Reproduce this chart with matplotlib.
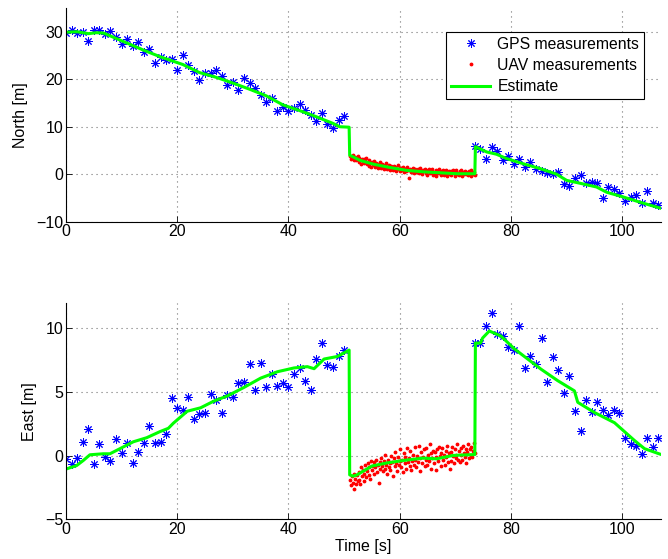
import numpy as np
import matplotlib
matplotlib.use("Agg")
import matplotlib.pyplot as plt

plt.rcParams['font.family'] = ['Liberation Sans', 'DejaVu Sans']
plt.rcParams['font.size'] = 11.5

# GPS fixes (1 Hz) before the UAV segment and after it
gps_t1 = np.arange(0, 51)
gps_t2 = np.arange(73.5, 107, 1.0)
gps_north1 = [29.8, 30.3, 29.8, 29.9, 28.0, 30.3, 30.3, 29.6, 30.1, 28.9,
              27.5, 28.4, 27.1, 27.8, 25.7, 26.4, 23.4, 24.7, 24.1, 24.3,
              22.0, 25.0, 23.1, 21.7, 19.8, 21.4, 21.4, 21.9, 20.6, 18.8,
              19.5, 17.8, 20.3, 19.3, 18.1, 16.7, 15.3, 16.0, 13.4, 14.2,
              13.4, 13.9, 14.8, 13.5, 12.5, 11.3, 12.8, 10.6, 9.7, 11.4, 12.3]
gps_north2 = [5.9, 5.4, 3.3, 5.8, 4.9, 2.9, 3.8, 2.2, 3.1, 1.5,
              2.6, 1.2, 0.7, 0.3, 0.1, 0.5, -2.0, -2.4, -0.9, -0.2,
              -1.9, -1.6, -1.9, -5.0, -2.7, -3.1, -4.0, -5.7, -4.7, -4.3,
              -6.1, -3.6, -6.1, -6.4]
gps_east1 = [-0.29, -0.64, -0.18, 1.10, 2.11, -0.64, 0.94, -0.10, -0.37, 1.31,
             0.24, 1.04, -0.58, 0.27, 1.04, 2.32, 1.04, 1.10, 1.68, 4.57,
             3.77, 3.58, 4.62, 2.88, 3.29, 3.37, 4.84, 4.36, 3.34, 4.78,
             4.62, 5.75, 5.83, 7.24, 5.16, 7.32, 5.42, 6.39, 5.50, 5.75,
             5.37, 6.39, 6.92, 5.91, 5.16, 7.64, 8.85, 7.13, 6.97, 7.83, 8.31]
gps_east2 = [8.85, 8.85, 10.23, 11.19, 9.59, 9.38, 8.58, 8.31, 10.18, 6.87,
             7.83, 7.19, 9.25, 5.80, 7.72, 6.71, 4.97, 6.25, 3.50, 1.98,
             4.36, 3.45, 4.22, 3.58, 3.18, 3.58, 3.37, 1.36, 0.96, 0.78,
             0.11, 1.36, 0.70, 1.36]

# UAV position measurements between t = 51 s and t = 73.5 s
uav_north = [3.9, 3.2, 3.6, 4.1, 3.0, 3.4, 3.7, 2.9, 3.3, 3.8,
             2.6, 3.4, 2.9, 2.2, 3.1, 2.7, 3.3, 2.4, 2.8, 3.5,
             2.1, 2.6, 1.8, 2.9, 2.3, 1.6, 2.5, 2.2, 2.8, 1.9,
             1.5, 2.4, 1.9, 1.3, 2.1, 2.6, 1.7, 1.4, 2.2, 1.8,
             1.2, 1.9, 1.5, 2.3, 1.1, 1.6, 2.0, 0.9, 1.4, 1.8,
             1.3, 0.8, 1.7, 1.1, 1.5, 0.6, 1.2, 1.9, 1.0, 1.4,
             0.7, 1.3, 0.9, 1.6, 0.4, 1.0, 1.2, 0.6, 1.5, 0.8,
             -0.8, 0.9, 1.2, 0.5, 0.8, 1.4, 0.3, 0.7, 1.1, 0.6,
             0.4, 1.0, 0.2, 0.8, 1.3, 0.5, 0.1, 0.9, 0.6, 1.1,
             0.3, 0.8, -0.2, 0.6, 1.0, 0.2, 0.7, 0.4, 1.2, -0.1,
             0.5, 0.1, 0.9, -0.3, 0.6, 0.3, 1.0, 0.2, 0.7, -0.1,
             0.4, 0.8, -0.2, 0.5, 0.1, 0.9, -0.4, 0.3, 0.6, 0.0,
             0.7, -0.1, 0.4, 0.9, 0.2, -0.3, 0.5, 0.8, 0.1, 0.3,
             -0.2, 0.6, 0.2, 0.8, -0.4, 0.4, 0.1, 0.7, 0.0, 0.5,
             0.3, -0.1, 0.6, 0.2, 0.8, -0.3, 0.4, 0.1, 0.5, -0.1]
uav_east = [-1.9, -2.3, -1.6, -2.1, -1.4, -2.6, -1.8, -2.2, -1.5, -2.0,
            -1.3, -1.9, -2.2, -0.9, -1.6, -1.1, -2.0, -1.4, -0.7, -1.7,
            -1.2, -0.6, -1.5, -0.9, -1.8, -0.4, -1.1, -0.8, -1.4, -0.5,
            -0.9, -0.3, -1.3, -0.7, -2.1, -0.5, -1.0, -0.2, -0.8, -1.2,
            -0.4, -1.0, 0.1, -0.7, -1.4, -0.3, -0.9, -0.6, -1.1, 0.0,
            -0.5, -1.6, -0.2, -0.8, 0.3, -0.6, -1.2, -0.1, -0.7, -0.4,
            0.5, -0.9, -0.3, -1.3, 0.2, -0.6, -0.1, -1.0, 0.6, -0.5,
            -0.2, -0.8, 0.4, -1.1, -0.4, 0.1, -0.7, 0.7, -0.3, -0.9,
            0.0, -0.5, 0.8, -0.2, -1.2, 0.3, -0.6, -0.1, 0.5, -0.8,
            -0.3, 0.6, -0.7, 0.1, -0.4, 0.9, -1.0, 0.2, -0.2, 0.4,
            -0.6, 0.3, -0.1, -1.1, 0.5, -0.4, 0.7, 0.0, -0.8, 0.2,
            0.6, -0.3, 0.1, -0.7, 0.4, -0.1, 0.8, -0.5, 0.2, -1.0,
            0.3, -0.4, 0.7, 0.0, -0.6, 0.5, 0.1, -0.2, 0.9, -0.3,
            0.4, -0.5, 0.6, 0.1, -0.3, 0.8, 0.2, -0.1, 0.5, -0.6,
            0.3, 0.9, -0.2, 0.5, 0.0, 0.7, -0.1, 0.4, 1.0, 0.2]
uav_t = np.linspace(51.1, 73.5, len(uav_north))

# filter estimate
est_t_north = [0, 2, 4, 5.5, 6.8, 8, 11, 14, 17, 21, 24, 27, 30, 33, 36, 39,
               42, 45, 48, 49.2, 50.9, 51.0, 52.9, 55.3, 58.3, 61.3, 64.3,
               67.3, 70.3, 73.5, 73.6, 75.6, 77.4, 79.2, 82.2, 85.2, 88.2,
               90, 92.4, 95.4, 97.2, 100.2, 103.2, 107]
est_north = [29.9, 30.0, 29.6, 29.8, 29.7, 29.1, 27.6, 26.1, 24.7, 23.1,
             21.4, 20.4, 19.2, 17.9, 16.5, 14.6, 13.4, 12.1, 10.7, 10.0,
             9.9, 4.0, 2.9, 2.1, 1.4, 0.8, 0.5, 0.3, 0.1, 0.1, 5.8, 4.7,
             4.2, 3.3, 2.2, 1.2, 0.0, -1.3, -1.9, -2.7, -3.8, -4.8, -5.9, -7.2]
est_t_east = [0, 1.9, 3.1, 4.3, 6.7, 7.9, 9.7, 12.1, 14.5, 16.9, 18.4, 19.3,
              21.8, 24.2, 26.6, 29, 32, 35, 38, 41, 43.4, 44.6, 46.4, 48.8,
              50.9, 51.0, 51.6, 52.3, 55, 57.7, 60.6, 64.2, 66.6, 69.6, 73.5,
              73.6, 74.5, 74.9, 76.1, 78.2, 80.6, 83, 85.4, 88.4, 91.4, 92,
              95, 98.6, 100.4, 102.2, 104, 107]
est_east = [-1.04, -0.77, -0.37, 0.08, 0.16, 0.16, 0.56, 1.1, 1.42, 1.9,
            2.16, 2.56, 3.5, 3.77, 4.3, 4.7, 5.37, 6.1, 6.6, 6.9, 7.0, 6.84,
            7.6, 7.8, 8.3, -1.5, -1.6, -1.5, -0.8, -0.56, -0.37, -0.18, -0.24,
            0.03, 0.1, 8.85, 8.85, 9.25, 9.8, 9.4, 8.4, 7.6, 6.8, 5.9, 5.1,
            4.2, 3.4, 2.6, 1.9, 1.2, 0.56, 0.1]

asterisk = (8, 2, 0)

fig = plt.figure(figsize=(6.68, 5.59), dpi=100)
ax1 = fig.add_axes([0.0988, 0.6034, 0.891, 0.3823])
ax2 = fig.add_axes([0.0988, 0.0707, 0.891, 0.3873])


def style(ax, ylim, yticks):
    ax.set_xlim(0, 107)
    ax.set_ylim(*ylim)
    ax.set_xticks([0, 20, 40, 60, 80, 100])
    ax.set_yticks(yticks)
    for s in ('top', 'right'):
        ax.spines[s].set_visible(False)
    ax.spines['left'].set_linewidth(0.8)
    ax.spines['bottom'].set_linewidth(0.8)
    ax.tick_params(direction='in', length=4, width=0.6, pad=2)
    ax.grid(True, color='0.45', linestyle=(0, (1, 3.5)), linewidth=0.8)
    ax.set_axisbelow(True)


for ax, g1, g2, uav, et, ev in [(ax1, gps_north1, gps_north2, uav_north, est_t_north, est_north),
                                 (ax2, gps_east1, gps_east2, uav_east, est_t_east, est_east)]:
    ax.plot(np.concatenate([gps_t1, gps_t2]), list(g1) + list(g2), linestyle='none',
            marker=asterisk, markersize=6, markeredgewidth=0.7, color='#0000ff',
            label='GPS measurements')
    ax.plot(uav_t, uav, linestyle='none', marker='.', markersize=3.5,
            color='#ff0000', label='UAV measurements')
    ax.plot(et, ev, color='#00ff00', linewidth=2.2, label='Estimate')

style(ax1, (-10, 35), [-10, 0, 10, 20, 30])
style(ax2, (-5, 12), [-5, 0, 5, 10])

ax1.set_ylabel('North [m]', labelpad=6)
ax2.set_ylabel('East [m]', labelpad=6)
ax2.set_xlabel('Time [s]', labelpad=1)

leg = ax1.legend(loc='upper right', bbox_to_anchor=(0.971, 0.888),
                 borderaxespad=0, fancybox=False, framealpha=1,
                 edgecolor='black', handlelength=2.5, fontsize=11.3,
                 borderpad=0.3, labelspacing=0.4, handletextpad=0.45)
leg.get_frame().set_linewidth(0.8)

fig.savefig('out.png', dpi=100)
